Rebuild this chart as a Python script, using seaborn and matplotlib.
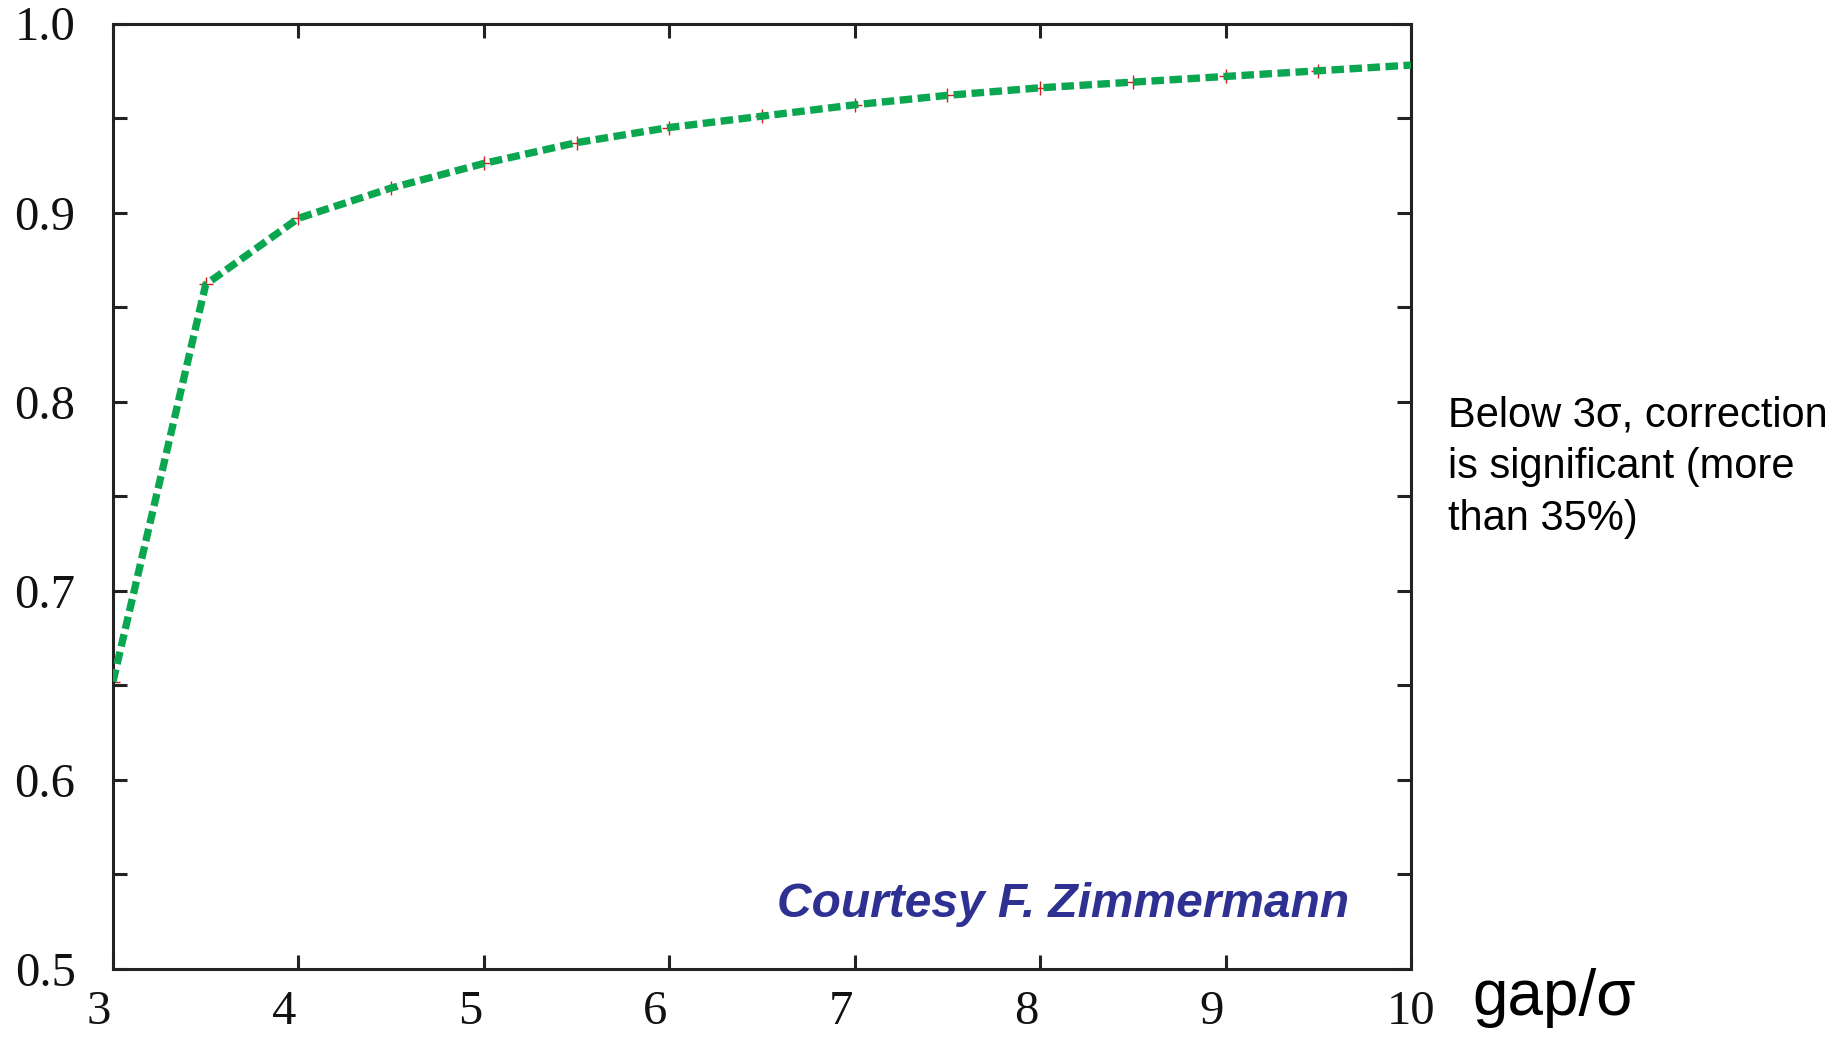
import matplotlib
matplotlib.use("Agg")
import matplotlib.pyplot as plt
import matplotlib.transforms as mtransforms
import seaborn as sns

# data
gap_sigma = [3.0, 3.5, 4.0, 4.5, 5.0, 5.5, 6.0, 6.5, 7.0, 7.5, 8.0, 8.5, 9.0, 9.5, 10.0]
correction = [0.652, 0.862, 0.897, 0.913, 0.926, 0.937, 0.945, 0.951, 0.957, 0.962,
              0.966, 0.969, 0.972, 0.975, 0.978]
x_ticks = [3, 4, 5, 6, 7, 8, 9, 10]
y_ticks = [0.5, 0.6, 0.7, 0.8, 0.9, 1.0]

sns.set_style("ticks")

fig = plt.figure(figsize=(18.44, 10.38), dpi=100)
ax = fig.add_axes([113 / 1844, 1 - 969 / 1038, 1298 / 1844, 945.5 / 1038])

# red + markers underneath the dashed green line
sns.scatterplot(x=gap_sigma, y=correction, marker="+", color="#d62020", s=90,
                linewidth=1.0, ax=ax, zorder=2)
sns.lineplot(x=gap_sigma, y=correction, color="#0aa650", linewidth=5.3,
             linestyle=(0, (1.7, 0.75)), ax=ax, zorder=3)

ax.set_xlim(3, 10)
ax.set_ylim(0.5, 1.0)
ax.set_xticks(x_ticks)
ax.set_xticklabels([str(t) for t in x_ticks])
ax.set_yticks(y_ticks)
ax.set_yticklabels([f"{t:.1f}" for t in y_ticks])
ax.set_yticks([0.55, 0.65, 0.75, 0.85, 0.95], minor=True)

for s in ax.spines.values():
    s.set_visible(True)
    s.set_linewidth(2.2)
    s.set_color("#222222")

ax.tick_params(axis="both", which="both", direction="in", length=10, width=2.2,
               color="#222222", top=True, right=True)
ax.tick_params(axis="y", which="major", pad=27)
ax.tick_params(axis="x", which="major", pad=15)

for lab in ax.get_xticklabels() + ax.get_yticklabels():
    lab.set_fontfamily("Liberation Serif")
    lab.set_fontsize(35)
    lab.set_color("#111111")

# single digit x labels sit a little left of their ticks in the original
for lab in ax.get_xticklabels():
    if len(lab.get_text()) == 1:
        lab.set_transform(lab.get_transform() +
                          mtransforms.ScaledTranslation(-14 / 100, 0, fig.dpi_scale_trans))

ax.set_xlabel("")
ax.set_ylabel("")

ax.text(0.952, 0.068, "Courtesy F. Zimmermann", transform=ax.transAxes,
        ha="right", va="center", fontsize=34.5, fontweight="bold", fontstyle="italic",
        color="#2e3192", family="Liberation Sans")

fig.text(1472 / 1844, 1 - 998 / 1038, "gap/σ", ha="left", va="center",
         fontsize=46, color="black", family="Liberation Sans")

fig.text(1448 / 1844, 1 - 395 / 1038,
         "Below 3σ, correction\nis significant (more\nthan 35%)",
         ha="left", va="top", fontsize=30, color="black", family="Liberation Sans",
         linespacing=1.38)

fig.savefig("out.png", dpi=100, facecolor="white")
